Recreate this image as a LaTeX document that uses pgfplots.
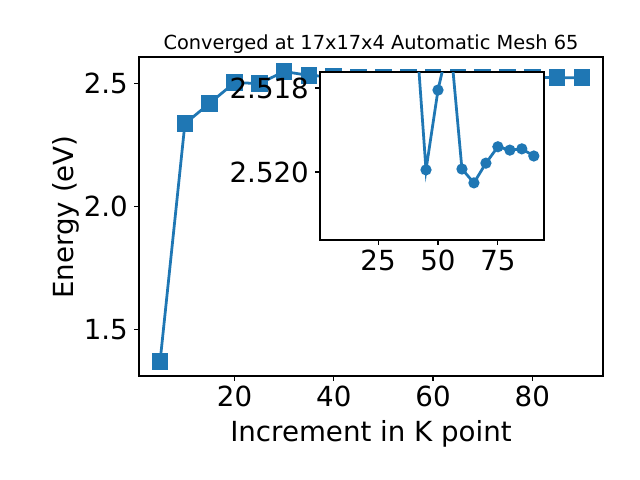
\documentclass[border=0pt]{standalone}
\usepackage{pgfplots}
\pgfplotsset{compat=1.18}
\usepackage{fontspec}
\setmainfont{DejaVu Sans}
\definecolor{mplblue}{RGB}{31,119,180}
\begin{document}
\begin{tikzpicture}
\path[use as bounding box] (0,0) rectangle (6.4in,4.8in);
\pgfplotsset{
  common/.style={
    scale only axis,
    anchor=south west,
    axis line style={line width=0.8pt},
    every tick/.style={line width=0.8pt, black},
    tick align=outside,
    major tick length=0.049in,
    xtick pos=bottom, ytick pos=left,
    /pgf/number format/assume math mode=true,
    ticklabel style={font=\fontsize{20}{24}\selectfont, inner sep=0pt},
    yticklabel style={anchor=east, xshift=-0.06in},
    xticklabel style={anchor=north, yshift=-0.05in},
  }
}
\begin{axis}[common,
  at={(1.39in,1.04in)}, width=4.64in, height=3.19in,
  xmin=0.75, xmax=94.25, ymin=1.311, ymax=2.608,
  xtick={20,40,60,80}, ytick={1.5,2.0,2.5},
  yticklabels={1.5,2.0,2.5},
]
\addplot[mplblue, line width=2pt, mark=square*, mark size=5pt,
  mark options={solid, fill=mplblue, draw=mplblue}] coordinates {
(5,1.370) (10,2.337) (15,2.420) (20,2.504) (25,2.500) (30,2.549)
(35,2.533) (40,2.528) (45,2.525) (50,2.525) (55,2.525) (60,2.525)
(65,2.525) (70,2.525) (75,2.525) (80,2.525) (85,2.524) (90,2.524)
};
\end{axis}
\begin{axis}[common,
  at={(3.20in,2.40in)}, width=2.24in, height=1.68in,
  axis background/.style={fill=white},
  xmin=0.75, xmax=94.25, ymin=2.51762, ymax=2.52162, y dir=reverse,
  xtick={25,50,75}, ytick={2.518,2.520},
  yticklabels={2.518,2.520},
  clip=true,
]
\addplot[mplblue, line width=2pt, mark=*, mark size=3pt,
  mark options={solid, fill=mplblue, draw=mplblue}] coordinates {
(40,2.51595) (45,2.51995) (50,2.51805) (55,2.51680) (60,2.51993)
(65,2.52026) (70,2.51979) (75,2.51940) (80,2.51948) (85,2.51945) (90,2.51962)
};
\end{axis}
\node[anchor=base, font=\fontsize{14}{17}\selectfont] at (3.71in,4.305in) {Converged at 17x17x4 Automatic Mesh 65};
\node[anchor=base, font=\fontsize{20}{24}\selectfont, inner sep=0pt] at (3.71in,0.39in) {Increment in K point};
\node[anchor=center, rotate=90, font=\fontsize{20}{24}\selectfont, inner sep=0pt] at (0.658in,2.63in) {Energy (eV)};
\end{tikzpicture}
\end{document}
